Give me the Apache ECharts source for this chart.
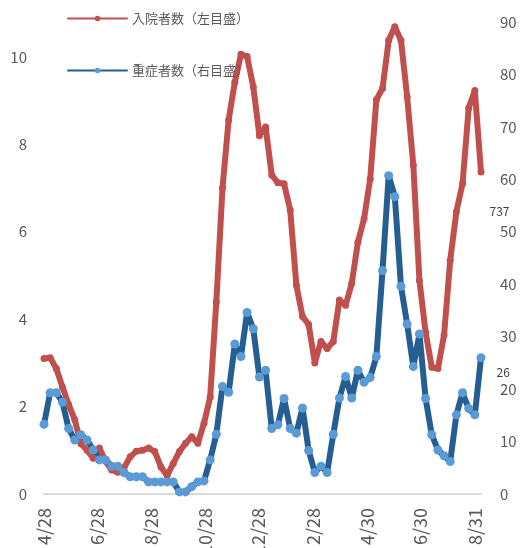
<!DOCTYPE html>
<html>
<head>
<meta charset="utf-8">
<script src="https://cdn.jsdelivr.net/npm/echarts@6/dist/echarts.min.js"></script>
<style>
  html, body { margin: 0; padding: 0; background: #ffffff; }
  #chart { width: 529px; height: 548px; }
</style>
</head>
<body>
<div id="chart"></div>
<script>
// Weekly reporting dates (Tuesdays)
const weekDates = [
  '2020-04-28','2020-05-05','2020-05-12','2020-05-19','2020-05-26','2020-06-02','2020-06-09','2020-06-16',
  '2020-06-23','2020-06-30','2020-07-07','2020-07-14','2020-07-21','2020-07-28','2020-08-04','2020-08-11',
  '2020-08-18','2020-08-25','2020-09-01','2020-09-08','2020-09-15','2020-09-22','2020-09-29','2020-10-06',
  '2020-10-13','2020-10-20','2020-10-27','2020-11-03','2020-11-10','2020-11-17','2020-11-24','2020-12-01',
  '2020-12-08','2020-12-15','2020-12-22','2020-12-29','2021-01-05','2021-01-12','2021-01-19','2021-01-26',
  '2021-02-02','2021-02-09','2021-02-16','2021-02-23','2021-03-02','2021-03-09','2021-03-16','2021-03-23',
  '2021-03-30','2021-04-06','2021-04-13','2021-04-20','2021-04-27','2021-05-04','2021-05-11','2021-05-18',
  '2021-05-25','2021-06-01','2021-06-08','2021-06-15','2021-06-22','2021-06-29','2021-07-06','2021-07-13',
  '2021-07-20','2021-07-27','2021-08-03','2021-08-10','2021-08-17','2021-08-24','2021-08-31','2021-09-07'
];

// 入院者数 (left axis, hundreds)
const hospitalized = [
  3.10, 3.12, 2.87, 2.45, 2.05, 1.70, 1.15, 1.00, 0.82, 1.05, 0.75, 0.55,
  0.50, 0.60, 0.85, 0.98, 1.00, 1.05, 0.97, 0.62, 0.42, 0.70, 0.97, 1.16,
  1.31, 1.16, 1.62, 2.22, 4.40, 7.00, 8.56, 9.42, 10.06, 10.01, 9.32, 8.20,
  8.40, 7.30, 7.12, 7.10, 6.50, 4.78, 4.06, 3.88, 3.00, 3.49, 3.33, 3.49,
  4.44, 4.32, 4.82, 5.76, 6.30, 7.21, 9.02, 9.28, 10.38, 10.69, 10.38, 9.09,
  7.53, 4.88, 3.70, 2.90, 2.87, 3.64, 5.35, 6.46, 7.10, 8.83, 9.23, 7.37
];

// 重症者数 (right axis)
const severe = [
  13.3, 19.3, 19.3, 17.5, 12.5, 10.3, 11.3, 10.3, 8.4, 6.5, 6.5, 5.3,
  5.3, 4.1, 3.3, 3.3, 3.3, 2.3, 2.3, 2.3, 2.3, 2.3, 0.4, 0.4,
  1.4, 2.3, 2.5, 6.5, 11.4, 20.5, 19.4, 28.6, 26.2, 34.6, 31.5, 22.3,
  23.6, 12.5, 13.2, 18.2, 12.5, 11.6, 16.4, 8.3, 4.1, 5.3, 4.1, 11.4,
  18.3, 22.4, 18.3, 23.6, 21.3, 22.2, 26.2, 42.6, 60.7, 56.7, 39.6, 32.4,
  24.3, 30.5, 18.2, 11.3, 8.4, 7.3, 6.2, 15.1, 19.3, 16.3, 15.1, 26
];

const seriesNames = ['入院者数（左目盛）', '重症者数（右目盛）'];
const xTickDates = ['2020-04-28','2020-06-28','2020-08-28','2020-10-28','2020-12-28',
                    '2021-02-28','2021-04-30','2021-06-30','2021-08-31'];
const leftTicks = [0, 2, 4, 6, 8, 10];
const rightTicks = [0, 10, 20, 30, 40, 50, 60, 70, 80, 90];

const FONT = '"Noto Sans CJK JP", "Noto Sans", sans-serif';
const RED = '#C0504D';
const BLUE_LINE = '#255E91';
const BLUE_DOT = '#5B9BD5';

function toTime(s) {
  const [y, m, d] = s.split('-').map(Number);
  return new Date(y, m - 1, d).getTime();
}

function withEndLabel(values, labelOpt) {
  return values.map((v, i) => {
    const item = { value: [toTime(weekDates[i]), v] };
    if (i === values.length - 1) item.label = labelOpt;
    return item;
  });
}

const chart = echarts.init(document.getElementById('chart'), null, { renderer: 'canvas' });

chart.setOption({
  animation: false,
  backgroundColor: '#ffffff',
  textStyle: { fontFamily: FONT },
  grid: { left: 44, right: 48, top: 22, bottom: 54, containLabel: false, outerBoundsMode: 'none' },
  legend: {
    orient: 'vertical',
    left: 67,
    top: 12,
    padding: 0,
    itemWidth: 59,
    itemHeight: 7,
    itemGap: 39,
    textStyle: { fontFamily: FONT, fontSize: 13, color: '#595959' },
    data: seriesNames
  },
  xAxis: {
    type: 'value',
    min: toTime(weekDates[0]),
    max: toTime(weekDates[weekDates.length - 1]),
    axisLine: { show: true, lineStyle: { color: '#D9D9D9', width: 2 } },
    axisTick: { show: false },
    splitLine: { show: false },
    axisLabel: {
      customValues: xTickDates.map(toTime),
      rotate: 90,
      margin: 14,
      padding: [5, 0, 0, 0],
      fontFamily: FONT,
      fontSize: 18,
      color: '#595959',
      hideOverlap: false,
      formatter: function (val) {
        const d = new Date(val);
        return (d.getMonth() + 1) + '/' + d.getDate();
      }
    }
  },
  yAxis: [
    {
      type: 'value',
      min: 0,
      max: 10.8,
      axisLine: { show: false },
      axisTick: { show: false },
      splitLine: { show: false },
      axisLabel: {
        customValues: leftTicks,
        margin: 17,
        fontFamily: FONT,
        fontSize: 15,
        color: '#595959'
      }
    },
    {
      type: 'value',
      min: 0,
      max: 90,
      position: 'right',
      axisLine: { show: false },
      axisTick: { show: false },
      splitLine: { show: false },
      axisLabel: {
        customValues: rightTicks,
        margin: 19,
        fontFamily: FONT,
        fontSize: 15,
        color: '#595959'
      }
    }
  ],
  series: [
    {
      name: seriesNames[0],
      type: 'line',
      yAxisIndex: 0,
      data: withEndLabel(hospitalized, {
        show: true,
        position: 'right',
        distance: 5,
        offset: [0, 40],
        fontFamily: FONT,
        fontSize: 12,
        color: '#404040',
        formatter: p => String(Math.round(p.value[1] * 100))
      }),
      symbol: 'circle',
      symbolSize: 7,
      showAllSymbol: true,
      itemStyle: { color: RED },
      lineStyle: { color: RED, width: 6, join: 'round', cap: 'round' },
      emphasis: { disabled: true }
    },
    {
      name: seriesNames[1],
      type: 'line',
      yAxisIndex: 1,
      data: withEndLabel(severe, {
        show: true,
        position: 'right',
        distance: 11,
        offset: [0, 15],
        fontFamily: FONT,
        fontSize: 12,
        color: '#404040',
        formatter: p => String(p.value[1])
      }),
      symbol: 'circle',
      symbolSize: 9,
      showAllSymbol: true,
      itemStyle: { color: BLUE_DOT },
      lineStyle: { color: BLUE_LINE, width: 6, join: 'round', cap: 'round' },
      emphasis: { disabled: true }
    }
  ]
});
</script>
</body>
</html>
